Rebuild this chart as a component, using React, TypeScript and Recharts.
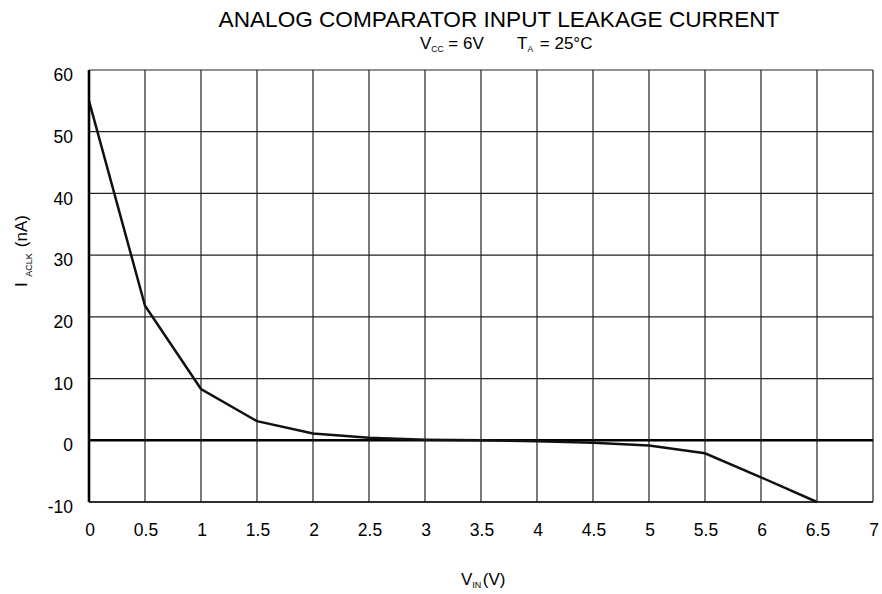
import React from 'react'
import {
  LineChart,
  Line,
  XAxis,
  YAxis,
  CartesianGrid,
  ReferenceLine
} from 'recharts'

// input voltage (V) and leakage current (nA)
const vin = [0, 0.5, 1, 1.5, 2, 2.5, 3, 3.5, 4, 4.5, 5, 5.5, 6, 6.5]
const leakage = [55, 21.8, 8.3, 3.1, 1.1, 0.4, 0.1, 0, -0.15, -0.4, -0.85, -2.1, -6, -10]

const xTicks = [0, 0.5, 1, 1.5, 2, 2.5, 3, 3.5, 4, 4.5, 5, 5.5, 6, 6.5, 7]
const yTicks = [-10, 0, 10, 20, 30, 40, 50, 60]

const data = vin.map((v, i) => ({ vin: v, iaclk: leakage[i] }))

const FONT = '"Liberation Sans", Arial, Helvetica, sans-serif'

const YTick = (props: any) => {
  const { x, y, payload } = props
  return (
    <text x={x} y={y + 5} dy="0.355em" textAnchor="end" fontSize={17.5} fontFamily={FONT} fill="#000" stroke="none">
      {payload.value}
    </text>
  )
}

const XTick = (props: any) => {
  const { x, y, payload } = props
  return (
    <text x={x + 1} y={y} dy="0.71em" textAnchor="middle" fontSize={17.5} fontFamily={FONT} fill="#000" stroke="none">
      {payload.value}
    </text>
  )
}

export default function App() {
  return (
    <div style={{ position: 'absolute', left: 0, top: 0, width: 882, height: 594, background: '#fff' }}>
      <LineChart
        width={882}
        height={594}
        data={data}
        margin={{ top: 70, right: 9, bottom: 62, left: 0 }}
      >
        <CartesianGrid stroke="#222" strokeWidth={1.2} />
        <XAxis
          dataKey="vin"
          type="number"
          domain={[0, 7]}
          ticks={xTicks}
          height={30}
          tickSize={0}
          tickMargin={22}
          axisLine={{ stroke: '#111', strokeWidth: 1.6 }}
          tick={XTick}
        />
        <YAxis
          type="number"
          domain={[-10, 60]}
          ticks={yTicks}
          width={89}
          tickSize={0}
          tickMargin={16}
          axisLine={{ stroke: '#000', strokeWidth: 2.6 }}
          tick={YTick}
        />
        <ReferenceLine y={0} stroke="#000" strokeWidth={2.6} />
        <Line
          dataKey="iaclk"
          stroke="#111"
          strokeWidth={2.5}
          dot={false}
          isAnimationActive={false}
        />
      </LineChart>
      <svg
        width={882}
        height={594}
        style={{ position: 'absolute', left: 0, top: 0, pointerEvents: 'none' }}
        fontFamily={FONT}
        fill="#000"
      >
        <text x={499} y={27} textAnchor="middle" fontSize={22.6}>
          ANALOG COMPARATOR INPUT LEAKAGE CURRENT
        </text>
        <text x={420} y={49} fontSize={17}>
          V<tspan fontSize={8.5} dy={3}>CC</tspan>
          <tspan dy={-3}> = 6V</tspan>
        </text>
        <text x={517} y={49} fontSize={17}>
          T<tspan fontSize={8.5} dy={3}>A</tspan>
          <tspan dy={-3} dx={2}> = 25°C</tspan>
        </text>
        <text x={461} y={585} fontSize={17}>
          V<tspan fontSize={9} dy={3}>IN</tspan>
          <tspan dy={-3} dx={1.5}>(V)</tspan>
        </text>
        <text transform="translate(27,287) rotate(-90)" fontSize={17}>
          I<tspan fontSize={9} dx={5.6} dy={5}>ACLK</tspan>
          <tspan dx={6} dy={-5}>(nA)</tspan>
        </text>
      </svg>
    </div>
  )
}
